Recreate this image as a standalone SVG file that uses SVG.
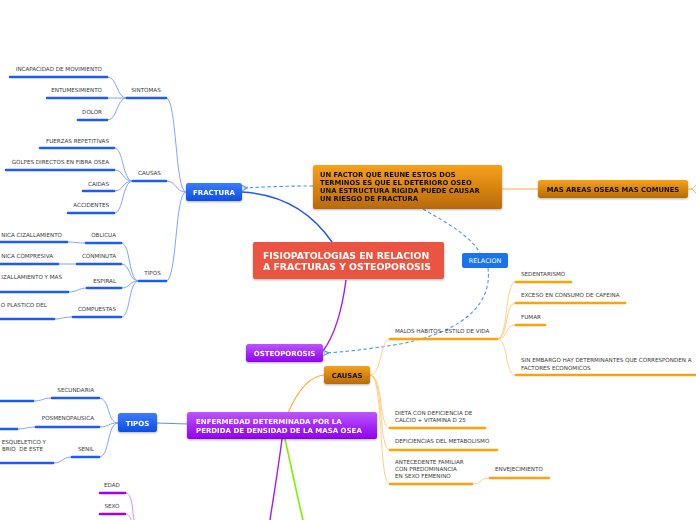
<svg xmlns="http://www.w3.org/2000/svg" width="696" height="520" viewBox="0 0 696 520">
<defs>
<linearGradient id="gBlue" x1="0" y1="0" x2="0" y2="1"><stop offset="0" stop-color="#3d7bff"/><stop offset="1" stop-color="#0b4ee6"/></linearGradient>
<linearGradient id="gOrange" x1="0" y1="0" x2="0" y2="1"><stop offset="0" stop-color="#f7a11a"/><stop offset="1" stop-color="#b86a06"/></linearGradient>
<linearGradient id="gPurple" x1="0" y1="0" x2="0" y2="1"><stop offset="0" stop-color="#bb55ff"/><stop offset="1" stop-color="#9000ee"/></linearGradient>
<filter id="sh" x="-10%" y="-20%" width="120%" height="160%"><feDropShadow dx="0" dy="1" stdDeviation="0.8" flood-color="#000" flood-opacity="0.3"/></filter>
<marker id="arr" viewBox="0 0 10 10" refX="8" refY="5" markerWidth="6" markerHeight="6" orient="auto-start-reverse"><path d="M9,1 L1,5 L9,9" fill="none" stroke="#4a98ee" stroke-width="1.6"/></marker>
<style>
text{font-family:"DejaVu Sans",Verdana,sans-serif}
.s{font-size:5.6px;fill:#3a3a3a}
.nb{font-size:7px;font-weight:bold;fill:#fff}
.nk{font-size:6.8px;font-weight:bold;fill:#111}
.ub{stroke:#1d5cf2;stroke-width:2.6;stroke-linecap:round;fill:none}
.uo{stroke:#ffa10a;stroke-width:2.6;stroke-linecap:round;fill:none}
.up{stroke:#a200f5;stroke-width:2.6;stroke-linecap:round;fill:none}
.cb{stroke:#7ea6ff;stroke-width:1;fill:none}
.co{stroke:#ffcf85;stroke-width:1;fill:none}
.cp{stroke:#d98cff;stroke-width:1;fill:none}
.dash{stroke:#4a98ee;stroke-width:1.1;stroke-dasharray:3.5,2.5;fill:none}
</style>
</defs>
<rect width="696" height="520" fill="#fff"/>

<g id="connectors">
<path d="M332,242 C310,210 280,194 242,192" stroke="#2458f0" stroke-width="1.5" fill="none"/>
<path d="M346,280 C342,310 335,335 323,351" stroke="#a21cf0" stroke-width="1.4" fill="none"/>
<path d="M313,186 C280,186 265,187 243,188" class="dash" marker-end="url(#arr)"/>
<path d="M423,209 C445,222 470,235 480,253" class="dash"/>
<path d="M488,268 C492,300 470,330 400,344 C370,349 345,352 324,353" class="dash" marker-end="url(#arr)"/>
<path d="M502,189 L538,189" stroke="#ffa940" stroke-width="1" fill="none"/>
<path d="M688,189 L691,189 C693,189 694,186 696,185 M691,189 C693,189 694,192 696,193" stroke="#ffa940" stroke-width="1" fill="none"/>
<path d="M288,413 C298,390 310,376 324,375" stroke="#ffa940" stroke-width="1.2" fill="none"/>
<path d="M188,424 L157,423" stroke="#5a8cff" stroke-width="1.2" fill="none"/>
<path d="M282,439 C278,470 273,500 270,520" stroke="#a21cf0" stroke-width="1.4" fill="none"/>
<path d="M285,439 C292,470 298,500 303,520" stroke="#80f000" stroke-width="1.6" fill="none"/>
<path d="M186,192 C175,192 177,98 166,98"  class="cb"/>
<path d="M186,192 C175,192 177,181 166,181" class="cb"/>
<path d="M186,192 C175,192 177,281 166,281" class="cb"/>
<path d="M127,98 C116,98 118,77 107,77" class="cb"/>
<path d="M127,98 L107,98" class="cb"/>
<path d="M127,98 C116,98 118,120 107,120" class="cb"/>
<path d="M133,181 C122,181 124,148 114,148" class="cb"/>
<path d="M133,181 C122,181 124,170 114,170" class="cb"/>
<path d="M133,181 C122,181 124,191 114,191" class="cb"/>
<path d="M133,181 C122,181 124,213 114,213" class="cb"/>
<path d="M139,281 C128,281 131,243 121,243" class="cb"/>
<path d="M139,281 C128,281 131,264 121,264" class="cb"/>
<path d="M139,281 C128,281 131,288 121,288" class="cb"/>
<path d="M139,281 C128,281 131,317 121,317" class="cb"/>
<path d="M86,243 C76,243 76,242 67,242" class="cb"/>
<path d="M77,264 L58,264" class="cb"/>
<path d="M87,288 C78,288 78,292 68,292" class="cb"/>
<path d="M73,317 C63,317 63,319 54,319" class="cb"/>
<path d="M118,423 C107,423 110,398 99,398" class="cb"/>
<path d="M118,423 C107,423 110,427 99,427" class="cb"/>
<path d="M118,423 C107,423 110,457 99,457" class="cb"/>
<path d="M52,398 C42,398 43,401 33,401" class="cb"/>
<path d="M36,427 C26,427 27,429 17,429" class="cb"/>
<path d="M72,457 C62,457 63,463 53,463" class="cb"/>
<path d="M125,493 C133,493 132,510 134,520" class="cp"/>
<path d="M125,514 C129,514 130,517 131,520" class="cp"/>
<path d="M370,375 C382,375 380,339 390,339" class="co"/>
<path d="M370,375 C384,375 378,428 390,428" class="co"/>
<path d="M370,375 C384,375 378,450 390,450" class="co"/>
<path d="M370,375 C384,375 378,484 390,484" class="co"/>
<path d="M497,339 C509,339 504,282 516,282" class="co"/>
<path d="M497,339 C509,339 504,303 516,303" class="co"/>
<path d="M497,339 C509,339 504,325 516,325" class="co"/>
<path d="M497,339 C509,339 504,375 516,375" class="co"/>
<path d="M472,484 C484,484 478,478 490,478" class="co"/>
</g>

<g id="central" filter="url(#sh)">
<rect x="253" y="242" width="191" height="37" rx="2" fill="#e9553f"/>
<text x="263" y="259" style="font-size:9.3px;font-weight:bold;fill:#fff">FISIOPATOLOGIAS EN RELACION</text>
<text x="263" y="270" style="font-size:9.3px;font-weight:bold;fill:#fff">A FRACTURAS Y OSTEOPOROSIS</text>
</g>

<g id="fractura" filter="url(#sh)">
<rect x="186" y="183" width="56" height="18" rx="2.5" fill="url(#gBlue)"/>
<text x="214" y="195" class="nb" text-anchor="middle">FRACTURA</text>
</g>

<g id="factor" filter="url(#sh)">
<rect x="313" y="165" width="189" height="44" rx="2" fill="url(#gOrange)"/>
<text x="320" y="177" class="nk">UN FACTOR QUE REUNE ESTOS DOS</text>
<text x="320" y="185" class="nk">TERMINOS ES QUE EL DETERIORO OSEO</text>
<text x="320" y="193" class="nk">UNA ESTRUCTURA RIGIDA PUEDE CAUSAR</text>
<text x="320" y="201" class="nk">UN RIESGO DE FRACTURA</text>
</g>

<g id="masareas" filter="url(#sh)">
<rect x="538" y="180" width="150" height="18" rx="2.5" fill="url(#gOrange)"/>
<text x="613" y="191.5" class="nk" text-anchor="middle">MAS AREAS OSEAS MAS COMUNES</text>
</g>

<g id="relacion">
<rect x="462" y="253" width="46" height="15" rx="2" fill="#1a73e8"/>
<text x="485" y="262.5" text-anchor="middle" style="font-size:6.4px;fill:#fff">RELACION</text>
</g>

<g id="osteoporosis" filter="url(#sh)">
<rect x="246" y="344" width="77" height="18" rx="2.5" fill="url(#gPurple)"/>
<text x="284.5" y="356" class="nb" text-anchor="middle">OSTEOPOROSIS</text>
</g>

<g id="causas-osteo" filter="url(#sh)">
<rect x="324" y="366" width="46" height="18" rx="2.5" fill="url(#gOrange)"/>
<text x="347" y="378" class="nk" text-anchor="middle">CAUSAS</text>
</g>

<g id="enfermedad" filter="url(#sh)">
<rect x="187" y="412" width="190" height="27" rx="2.5" fill="url(#gPurple)"/>
<text x="196" y="424" class="nb">ENFERMEDAD DETERMINADA POR LA</text>
<text x="196" y="433" class="nb">PERDIDA DE DENSIDAD DE LA MASA OSEA</text>
</g>

<g id="tipos-osteo" filter="url(#sh)">
<rect x="118" y="413" width="39" height="19" rx="2.5" fill="url(#gBlue)"/>
<text x="137.5" y="426" class="nb" text-anchor="middle">TIPOS</text>
</g>

<g id="sintomas"><text x="146" y="92" class="s" text-anchor="middle">SINTOMAS</text><path d="M127,98 H166" class="ub"/></g>
<g id="incapacidad"><text x="102" y="71" class="s" text-anchor="end">INCAPACIDAD DE MOVIMIENTO</text><path d="M10,77 H107" class="ub"/></g>
<g id="entumesimiento"><text x="102" y="92" class="s" text-anchor="end">ENTUMESIMIENTO</text><path d="M47,98 H107" class="ub"/></g>
<g id="dolor"><text x="102" y="114" class="s" text-anchor="end">DOLOR</text><path d="M78,120 H107" class="ub"/></g>

<g id="causas-fr"><text x="149.5" y="175" class="s" text-anchor="middle">CAUSAS</text><path d="M133,181 H166" class="ub"/></g>
<g id="fuerzas"><text x="109" y="143" class="s" text-anchor="end">FUERZAS REPETITIVAS</text><path d="M40,148 H114" class="ub"/></g>
<g id="golpes"><text x="109" y="164" class="s" text-anchor="end">GOLPES DIRECTOS EN FIBRA OSEA</text><path d="M6,170 H114" class="ub"/></g>
<g id="caidas"><text x="109" y="186" class="s" text-anchor="end">CAIDAS</text><path d="M83,191 H114" class="ub"/></g>
<g id="accidentes"><text x="109" y="207" class="s" text-anchor="end">ACCIDENTES</text><path d="M68,213 H114" class="ub"/></g>

<g id="tipos-fr"><text x="152.5" y="275" class="s" text-anchor="middle">TIPOS</text><path d="M139,281 H166" class="ub"/></g>
<g id="oblicua"><text x="116" y="237" class="s" text-anchor="end">OBLICUA</text><path d="M86,243 H121" class="ub"/></g>
<g id="conminuta"><text x="116" y="258" class="s" text-anchor="end">CONMINUTA</text><path d="M77,264 H121" class="ub"/></g>
<g id="espiral"><text x="116" y="283" class="s" text-anchor="end">ESPIRAL</text><path d="M87,288 H121" class="ub"/></g>
<g id="compuestas"><text x="116" y="311" class="s" text-anchor="end">COMPUESTAS</text><path d="M73,317 H121" class="ub"/></g>
<g id="oblicua-c"><text x="62" y="237" class="s" text-anchor="end">NICA CIZALLAMIENTO</text><path d="M-3,242 H67" class="ub"/></g>
<g id="conminuta-c"><text x="53" y="258" class="s" text-anchor="end">NICA COMPRESIVA</text><path d="M-3,264 H58" class="ub"/></g>
<g id="espiral-c"><text x="62" y="279" class="s" text-anchor="end">IZALLAMIENTO Y MAS</text><path d="M-3,292 H68" class="ub"/></g>
<g id="compuestas-c"><text x="47" y="307" class="s" text-anchor="end">O PLASTICO DEL</text><path d="M-3,319 H54" class="ub"/></g>

<g id="secundaria"><text x="94" y="392" class="s" text-anchor="end">SECUNDARIA</text><path d="M52,398 H99" class="ub"/></g>
<g id="secundaria-c"><path d="M-3,401 H33" class="ub"/></g>
<g id="posmenopausica"><text x="94" y="420" class="s" text-anchor="end">POSMENOPAUSICA</text><path d="M36,427 H99" class="ub"/></g>
<g id="posmenopausica-c"><path d="M-3,429 H17" class="ub"/></g>
<g id="senil"><text x="94" y="451" class="s" text-anchor="end">SENIL</text><path d="M72,457 H99" class="ub"/></g>
<g id="senil-c"><text x="46" y="444" class="s" text-anchor="end">ESQUELETICO Y</text><text x="43" y="451" class="s" text-anchor="end" xml:space="preserve">BRIO  DE ESTE</text><path d="M-3,463 H53" class="ub"/></g>

<g id="edad"><text x="112" y="487" class="s" text-anchor="middle">EDAD</text><path d="M100,493 H125" class="up"/></g>
<g id="sexo"><text x="112" y="508" class="s" text-anchor="middle">SEXO</text><path d="M100,514 H125" class="up"/></g>

<g id="malos"><text x="395" y="333" class="s">MALOS HABITOS- ESTILO DE VIDA</text><path d="M390,339 H497" class="uo"/></g>
<g id="sedentarismo"><text x="521" y="276" class="s">SEDENTARISMO</text><path d="M516,282 H571" class="uo"/></g>
<g id="cafeina"><text x="521" y="297" class="s">EXCESO EN CONSUMO DE CAFEINA</text><path d="M516,303 H625" class="uo"/></g>
<g id="fumar"><text x="521" y="319" class="s">FUMAR</text><path d="M516,325 H545" class="uo"/></g>
<g id="sinembargo"><text x="521" y="362" class="s">SIN EMBARGO HAY DETERMINANTES QUE CORRESPONDEN A</text><text x="521" y="370" class="s">FACTORES ECONOMICOS</text><path d="M516,375 H699" class="uo"/></g>
<g id="dieta"><text x="395" y="415" class="s">DIETA CON DEFICIENCIA DE</text><text x="395" y="422" class="s">CALCIO + VITAMINA D 25</text><path d="M390,428 H485" class="uo"/></g>
<g id="deficiencias"><text x="395" y="443" class="s">DEFICIENCIAS DEL METABOLISMO</text><path d="M390,450 H497" class="uo"/></g>
<g id="antecedente"><text x="395" y="464" class="s">ANTECEDENTE FAMILIAR</text><text x="395" y="471" class="s">CON PREDOMINANCIA</text><text x="395" y="478" class="s">EN SEXO FEMENINO</text><path d="M390,484 H472" class="uo"/></g>
<g id="envejecimiento"><text x="495" y="471" class="s">ENVEJECIMIENTO</text><path d="M490,478 H549" class="uo"/></g>
</svg>
